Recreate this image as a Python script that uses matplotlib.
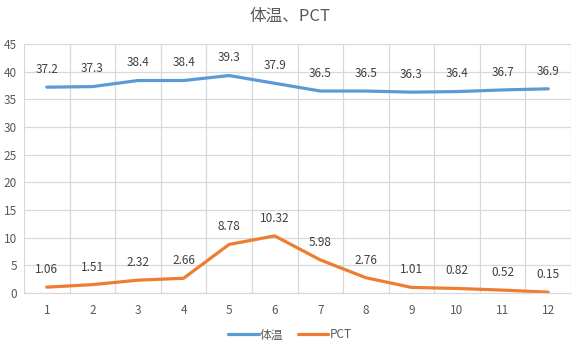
import matplotlib
matplotlib.use("Agg")
import matplotlib.pyplot as plt
from matplotlib.ticker import MultipleLocator

plt.rcParams['font.family'] = ['Noto Sans CJK SC', 'DejaVu Sans']

categories = ["1", "2", "3", "4", "5", "6", "7", "8", "9", "10", "11", "12"]
temp = [37.2, 37.3, 38.4, 38.4, 39.3, 37.9, 36.5, 36.5, 36.3, 36.4, 36.7, 36.9]
pct = [1.06, 1.51, 2.32, 2.66, 8.78, 10.32, 5.98, 2.76, 1.01, 0.82, 0.52, 0.15]
temp_labels = ["37.2", "37.3", "38.4", "38.4", "39.3", "37.9", "36.5", "36.5", "36.3", "36.4", "36.7", "36.9"]
pct_labels = ["1.06", "1.51", "2.32", "2.66", "8.78", "10.32", "5.98", "2.76", "1.01", "0.82", "0.52", "0.15"]

W, H = 580, 346
fig = plt.figure(figsize=(W / 100, H / 100), dpi=100)
left, right, top, bottom = 24, 571, 44, 293
ax = fig.add_axes([left / W, 1 - bottom / H, (right - left) / W, (bottom - top) / H])

blue = "#5B9BD5"
orange = "#ED7D31"
txt = "#595959"
grid = "#D9D9D9"

x = list(range(len(categories)))
l1, = ax.plot(x, temp, color=blue, lw=2.3, solid_capstyle='round', label="体温")
l2, = ax.plot(x, pct, color=orange, lw=2.3, solid_capstyle='round', label="PCT")

for xi, v, s in zip(x, temp, temp_labels):
    ax.annotate(s, (xi, v), xytext=(0, 8), textcoords='offset points',
                ha='center', va='bottom', fontsize=8.5, color="#404040")
for xi, v, s in zip(x, pct, pct_labels):
    ax.annotate(s, (xi, v), xytext=(0, 8), textcoords='offset points',
                ha='center', va='bottom', fontsize=8.5, color="#404040")

ax.set_xlim(-0.5, len(categories) - 0.5)
ax.set_ylim(0, 45)
ax.yaxis.set_major_locator(MultipleLocator(5))
ax.set_xticks(x)
ax.set_xticklabels(categories)

ax.grid(False)
for i in range(len(categories) + 1):
    ax.axvline(i - 0.5, color=grid, lw=0.9, zorder=0)
for yv in range(5, 50, 5):
    ax.axhline(yv, color=grid, lw=0.9, zorder=0)

for side in ["top", "right", "left"]:
    ax.spines[side].set_visible(False)
ax.spines["bottom"].set_color(grid)
ax.spines["bottom"].set_linewidth(0.9)

ax.tick_params(axis='both', which='both', length=0, labelsize=8.5, labelcolor=txt)
ax.tick_params(axis='x', pad=8)
ax.tick_params(axis='y', pad=5)

fig.text(0.5, 1 - 16 / H, "体温、PCT", ha='center', va='center', fontsize=12, color=txt)

fig.legend(handles=[l1, l2], loc='center', bbox_to_anchor=(0.5, 1 - 335 / H),
           ncol=2, frameon=False, fontsize=8.5, labelcolor=txt,
           handlelength=2.6, handletextpad=0.1, columnspacing=1.2)

fig.savefig("out.png", dpi=100, facecolor="white")
